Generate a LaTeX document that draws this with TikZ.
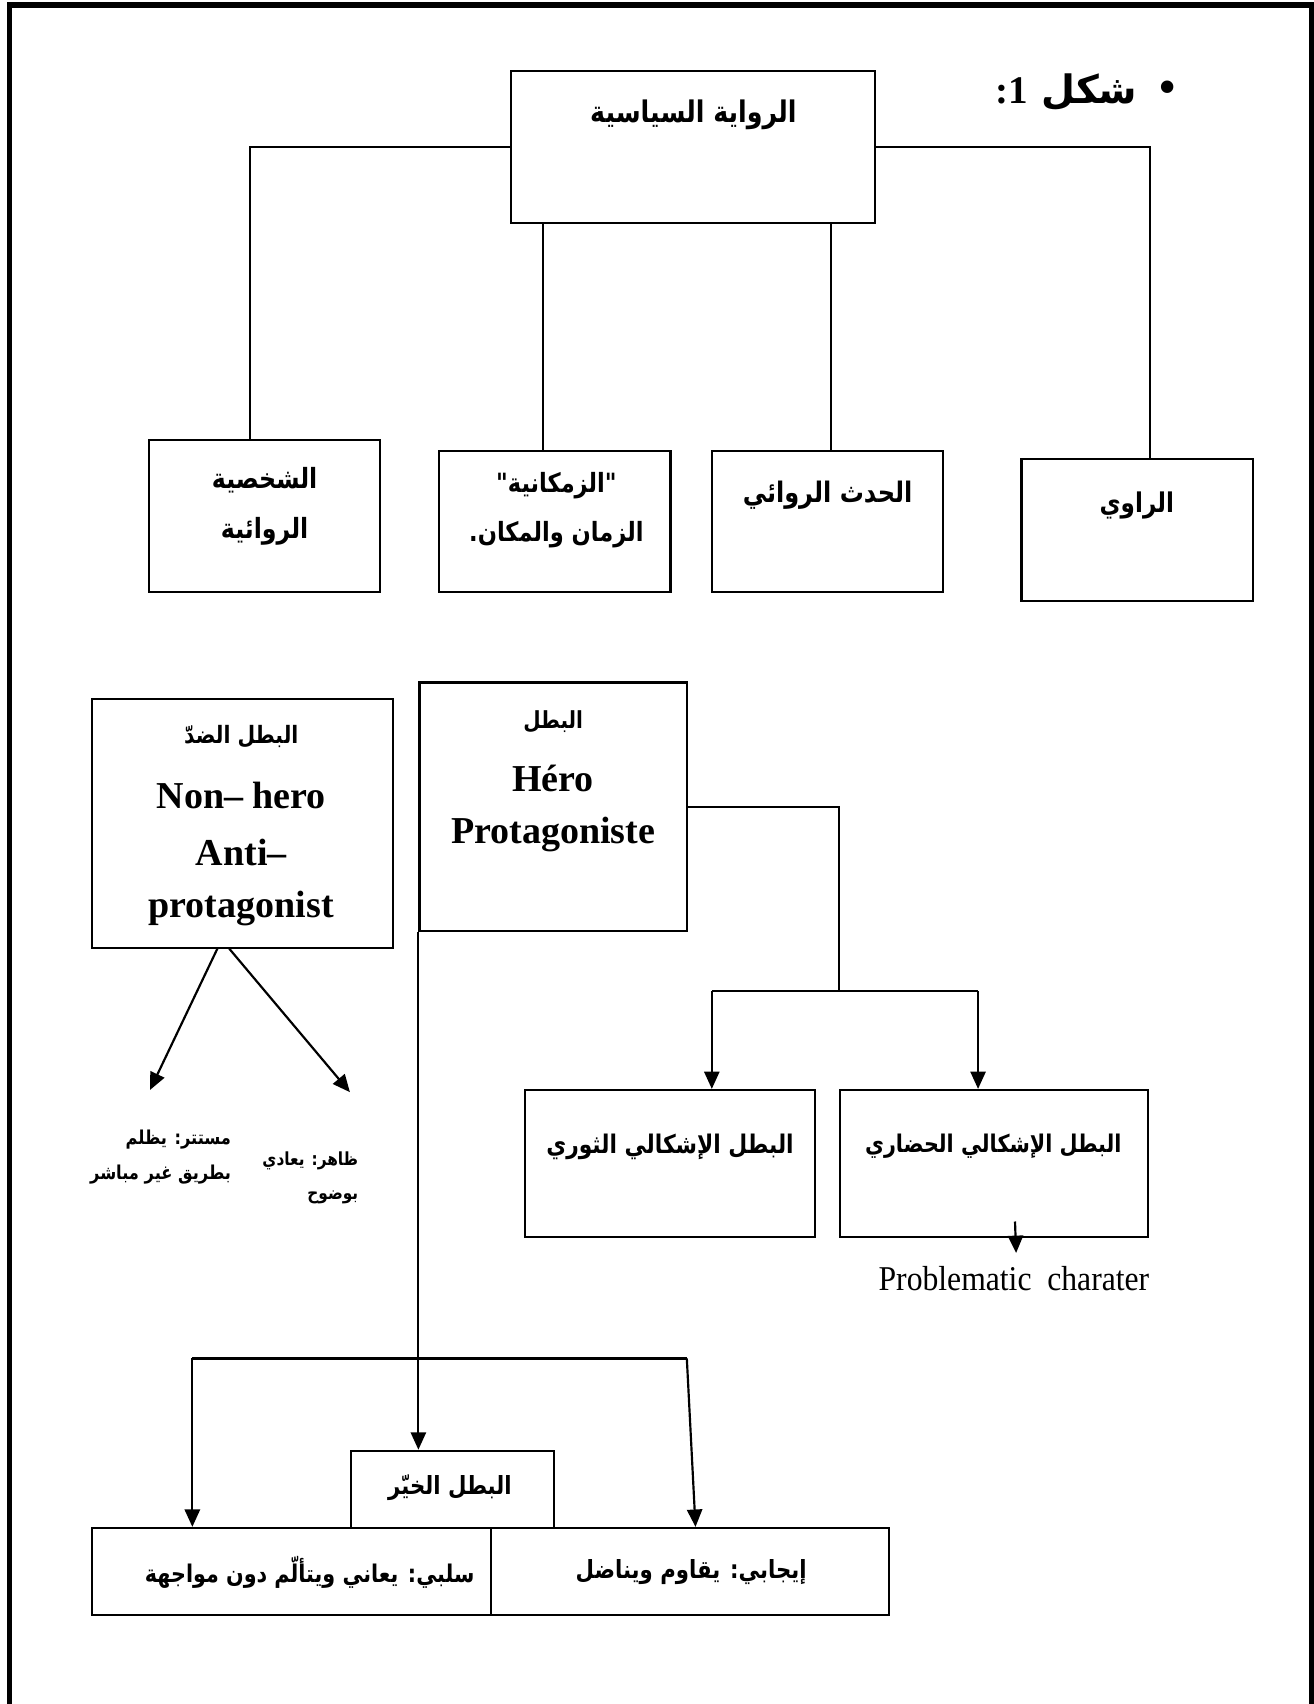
\documentclass[tikz,border=0pt]{standalone}
\usepackage{fontspec}
\setmainfont{Liberation Serif}
\newfontfamily\ar[Script=Arabic,FakeStretch=0.85]{DejaVu Sans}
\newfontfamily\arwide[Script=Arabic]{DejaVu Sans}
\newfontfamily\narrowserif[FakeStretch=0.91]{Liberation Serif}
\TeXXeTstate=1
\usetikzlibrary{arrows.meta}

% bold Arabic face at a given size
\newcommand{\ARf}[1]{\fontsize{#1}{#1}\selectfont\ar\bfseries}

\tikzset{
  box/.style={draw, line width=1pt, rectangle, inner sep=0pt},
  lbl/.style={inner sep=0pt, anchor=center},
  link/.style={line width=1pt},
  arr/.style={link, -{Triangle[length=8pt,width=7pt]}},
  fl/.style={font=\bfseries\fontsize{17.5}{20}\selectfont}
}

\begin{document}
\begin{tikzpicture}[x=0.5pt,y=-0.5pt]
\useasboundingbox (0,0) rectangle (1209,1568);
\fill[white] (0,0) rectangle (1209,1568);

% page frame, open at the bottom
\draw[line width=2.7pt] (8.7,1568) -- (8.7,4.6) -- (1207.5,4.6) -- (1207.5,1568);

% heading
\node[lbl, font=\fontsize{24}{26}\selectfont] (bullet) at (1074,85) {•};
\node[lbl, anchor=east, font=\fontsize{18}{20}\selectfont] (fig) at (1047,85)
  {\arwide\bfseries\beginR شكل \beginL{\rmfamily 1}\endL{\rmfamily :}\endR};

% ---------- upper tree ----------
\node[box, minimum width=167.5pt, minimum height=70pt] (top) at (637.5,135) {};
\node[lbl, font=\ARf{13.7}] (topT) at (638,106) {\beginR الرواية السياسية\endR};

\node[box, minimum width=106.5pt, minimum height=70pt]   (pers)   at (243.5,475) {};
\node[box, minimum width=106.5pt, minimum height=65pt]   (chrono) at (510.5,480) {};
\node[box, minimum width=106.5pt, minimum height=65pt]   (event)  at (761.5,480) {};
\node[box, minimum width=106.5pt, minimum height=65.5pt] (narr)   at (1046.5,487.5) {};

\node[lbl, font=\ARf{12.8}] (persA) at (243.5,442) {\beginR الشخصية\endR};
\node[lbl, font=\ARf{12.8}] (persB) at (243.5,489) {\beginR الروائية\endR};
\node[lbl, font=\ARf{12.2}] (chronoA) at (512,447) {\beginR "الزمكانية"\endR};
\node[lbl, font=\ARf{12.2}] (chronoB) at (512,492) {\beginR الزمان والمكان.\endR};
\node[lbl, font=\ARf{13}] (eventT) at (761.5,456) {\beginR الحدث الروائي\endR};
\node[lbl, font=\ARf{12.5}] (narrT) at (1046,465) {\beginR الراوي\endR};

\coordinate (pj) at ([xshift=-6.75pt]pers.north);
\coordinate (cj) at ([xshift=-5.25pt]chrono.north);
\coordinate (ej) at ([xshift=1.75pt]event.north);
\coordinate (nj) at ([xshift=5.75pt]narr.north);
\draw[link] (top.west) -| (pj);
\draw[link] (top.east) -| (nj);
\draw[link] (top.south -| cj) -- (cj);
\draw[link] (top.south -| ej) -- (ej);

% ---------- hero types ----------
\node[box, minimum width=138.5pt, minimum height=114.5pt] (anti) at (223.5,757.5) {};
\node[box, minimum width=123pt,   minimum height=114.5pt] (hero) at (509,742.5) {};

\node[lbl, font=\ARf{11}] (antiA) at (222,678) {\beginR البطل الضدّ\endR};
\node[lbl, fl] (antiB) at (222,732) {Non– hero};
\node[lbl, fl] (antiC) at (222,784) {Anti–};
\node[lbl, fl] (antiD) at (222,836) {protagonist};

\node[lbl, font=\ARf{10.8}] (heroA) at (509,664) {\beginR البطل\endR};
\node[lbl, fl] (heroB) at (509,716) {Héro};
\node[lbl, fl] (heroC) at (509,768) {Protagoniste};

% anti-hero branches
\coordinate (hidT) at (138,1003);
\coordinate (visT) at (322,1005);
\draw[arr] ([xshift=-11.75pt]anti.south) -- (hidT);
\draw[arr] ([xshift=-6.25pt]anti.south) -- (visT);

\node[lbl, anchor=east, font=\ARf{8.8}] (hidA) at (213,1049) {\beginR مستتر: يظلم\endR};
\node[lbl, anchor=east, font=\ARf{8.8}] (hidB) at (213,1081) {\beginR بطريق غير مباشر\endR};
\node[lbl, anchor=east, font=\ARf{8.3}] (visA) at (330,1068) {\beginR ظاهر: يعادي\endR};
\node[lbl, anchor=east, font=\ARf{8.3}] (visB) at (330,1102) {\beginR بوضوح\endR};

% problematic hero
\node[box, minimum width=133.5pt, minimum height=67.5pt] (rev) at (616.5,1070.5) {};
\node[box, minimum width=141.5pt, minimum height=67.5pt] (civ) at (914.5,1070.5) {};
\node[lbl, font=\ARf{11.8}] (revT) at (616.5,1055) {\beginR البطل الإشكالي الثوري\endR};
\node[lbl, font=\ARf{11.2}] (civT) at (914,1055) {\beginR البطل الإشكالي الحضاري\endR};

\coordinate (split) at (772,912);
\coordinate (revJ) at (655,912);
\coordinate (civJ) at (900,912);
\draw[link] (hero.east) -| (split);
\draw[link] (revJ) -- (civJ);
\draw[arr] (revJ) -- (revJ |- rev.north);
\draw[arr] (civJ) -- (civJ |- civ.north);

\coordinate (pcA) at (934,1124);
\coordinate (pcB) at (935,1153);
\draw[arr] (pcA) -- (pcB);
\node[lbl, font=\narrowserif\fontsize{16}{18}\selectfont] (pcT) at (933,1177) {Problematic\ \ charater};

% good hero
\node[box, minimum width=93.5pt, minimum height=35.5pt] (good) at (416.5,1370.5) {};
\node[box, minimum width=183.5pt, minimum height=40pt] (neg) at (268.5,1446) {};
\node[box, minimum width=183pt,   minimum height=40pt] (pos) at (635,1446) {};
\node[lbl, font=\ARf{11.5}] (goodT) at (414,1369) {\beginR البطل الخيّر\endR};
\node[lbl, font=\ARf{11.2}] (negT) at (285,1447) {\beginR سلبي: يعاني ويتألّم دون مواجهة\endR};
\node[lbl, font=\ARf{11.5}] (posT) at (636,1447) {\beginR إيجابي: يقاوم ويناضل\endR};

\draw[arr] (hero.south west) -- (hero.south west |- good.north);

\coordinate (bL) at (177,1250);
\coordinate (bR) at (632,1250);
\coordinate (posIn) at ([xshift=2.5pt]pos.north);
\draw[link] (bL) -- (bR);
\draw[arr] (bL) -- (bL |- neg.north);
\draw[arr] (bR) -- (posIn);
\end{tikzpicture}
\end{document}
